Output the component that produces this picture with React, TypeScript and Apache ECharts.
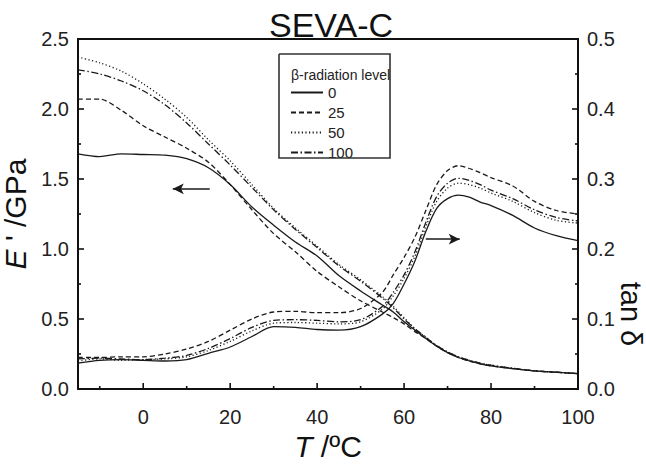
import React, { useEffect, useRef } from "react";
import * as echarts from "echarts";

// Temperature grid (°C)
const temps = [-15, -10, -5, 0, 5, 10, 15, 20, 25, 30, 35, 40, 45, 50, 55, 57.5, 60, 62.5, 65, 67.5, 70, 72.5, 75, 77.5, 80, 85, 90, 95, 100];

// Storage modulus E' (GPa) for each β-radiation level
const E0 = [1.68, 1.66, 1.68, 1.675, 1.67, 1.645, 1.58, 1.46, 1.30, 1.17, 1.05, 0.95, 0.81, 0.70, 0.60, 0.55, 0.48, 0.42, 0.36, 0.305, 0.26, 0.225, 0.2, 0.18, 0.165, 0.145, 0.13, 0.12, 0.11];
const E25 = [2.07, 2.07, 1.99, 1.88, 1.80, 1.72, 1.62, 1.46, 1.28, 1.11, 0.98, 0.84, 0.73, 0.63, 0.55, 0.51, 0.465, 0.41, 0.36, 0.305, 0.26, 0.225, 0.2, 0.18, 0.165, 0.145, 0.13, 0.12, 0.11];
const E50 = [2.37, 2.33, 2.27, 2.18, 2.07, 1.94, 1.78, 1.63, 1.46, 1.29, 1.15, 1.02, 0.89, 0.78, 0.66, 0.59, 0.51, 0.43, 0.37, 0.31, 0.265, 0.23, 0.205, 0.185, 0.17, 0.148, 0.13, 0.12, 0.11];
const E100 = [2.28, 2.25, 2.20, 2.13, 2.03, 1.90, 1.75, 1.60, 1.44, 1.28, 1.14, 1.01, 0.88, 0.77, 0.65, 0.58, 0.50, 0.43, 0.37, 0.31, 0.265, 0.23, 0.205, 0.185, 0.17, 0.148, 0.13, 0.12, 0.11];

// tan δ for each β-radiation level
const T0 = [0.037, 0.041, 0.042, 0.041, 0.040, 0.042, 0.051, 0.060, 0.075, 0.089, 0.088, 0.085, 0.084, 0.089, 0.107, 0.122, 0.150, 0.183, 0.225, 0.258, 0.272, 0.277, 0.274, 0.267, 0.262, 0.248, 0.230, 0.219, 0.212];
const T25 = [0.045, 0.045, 0.046, 0.046, 0.050, 0.057, 0.068, 0.084, 0.100, 0.110, 0.111, 0.109, 0.109, 0.115, 0.138, 0.163, 0.188, 0.217, 0.255, 0.292, 0.312, 0.319, 0.315, 0.309, 0.302, 0.290, 0.268, 0.255, 0.250];
const T50 = [0.040, 0.043, 0.041, 0.042, 0.043, 0.046, 0.055, 0.068, 0.083, 0.094, 0.095, 0.094, 0.093, 0.096, 0.114, 0.133, 0.158, 0.190, 0.232, 0.268, 0.287, 0.294, 0.292, 0.287, 0.280, 0.268, 0.252, 0.241, 0.237];
const T100 = [0.043, 0.044, 0.043, 0.042, 0.044, 0.048, 0.058, 0.072, 0.088, 0.098, 0.099, 0.098, 0.096, 0.099, 0.118, 0.138, 0.163, 0.196, 0.238, 0.275, 0.294, 0.301, 0.298, 0.292, 0.284, 0.272, 0.256, 0.245, 0.240];

const levels = ["0", "25", "50", "100"];
const xMajorTicks = [0, 20, 40, 60, 80, 100];
const xMinorTicks = [-10, 10, 30, 50, 70, 90];
const eMajorTicks = [0.5, 1.0, 1.5, 2.0];
const eMinorTicks = [0.25, 0.75, 1.25, 1.75, 2.25];
const tanMajorTicks = [0.1, 0.2, 0.3, 0.4];
const tanMinorTicks = [0.05, 0.15, 0.25, 0.35, 0.45];

// Arrow annotations (data coordinates)
const leftArrow = { from: [15.3, 1.43], to: [6.8, 1.43] };
const rightArrow = { from: [65.0, 0.214], to: [72.8, 0.214] };

const FONT = "'Liberation Sans', Arial, sans-serif";
const INK = "#1a1a1a";
const FRAME = "#111111";

const dashTypes: any[] = ["solid", [5, 3], [1.2, 2.4], [7, 2.5, 1.5, 2.5]];

function pairs(vals: number[]) {
  return temps.map((t, i) => [t, vals[i]]);
}

export default function App() {
  const ref = useRef<HTMLDivElement>(null);
  useEffect(() => {
    if (!ref.current) return;
    const chart = echarts.init(ref.current, undefined, { renderer: "svg" });
    const Esets = [E0, E25, E50, E100];
    const Tsets = [T0, T25, T50, T100];
    const series: any[] = [];
    const arrowLine = (a: { from: number[]; to: number[] }) => ({
      silent: true,
      symbol: ["none", "arrow"],
      symbolSize: [8, 11],
      label: { show: false },
      lineStyle: { color: INK, type: "solid", width: 1.5 },
      data: [[{ coord: a.from }, { coord: a.to }]],
    });
    const seg = (x1: number, y1: number, x2: number, y2: number, w = 1.6) => ({
      type: "line",
      shape: { x1, y1, x2, y2 },
      style: { stroke: FRAME, lineWidth: w },
    });

    // Frame, x ticks, left ticks and legend box (drawn with the left E' axis)
    series.push({
      name: "frame",
      type: "custom",
      xAxisIndex: 0,
      yAxisIndex: 0,
      clip: false,
      silent: true,
      z: 5,
      data: [[0, 0]],
      renderItem: (_p: any, api: any) => {
        const [xl, yb] = api.coord([-15, 0]);
        const [xr, yt] = api.coord([100, 2.5]);
        const ch: any[] = [
          {
            type: "polyline",
            shape: { points: [[xl, yb], [xl, yt], [xr, yt], [xr, yb], [xl, yb]] },
            style: { stroke: FRAME, lineWidth: 2, fill: null },
          },
          {
            type: "polyline",
            shape: { points: [[279, 54], [390, 54], [390, 158], [279, 158], [279, 54]] },
            style: { stroke: "#333333", lineWidth: 1.6, fill: null },
          },
        ];
        xMajorTicks.forEach((v) => {
          const px = api.coord([v, 0])[0];
          ch.push(seg(px, yb, px, yb - 6));
        });
        xMinorTicks.forEach((v) => {
          const px = api.coord([v, 0])[0];
          ch.push(seg(px, yb, px, yb - 3));
        });
        eMajorTicks.forEach((v) => {
          const py = api.coord([-15, v])[1];
          ch.push(seg(xl, py, xl + 6, py));
        });
        eMinorTicks.forEach((v) => {
          const py = api.coord([-15, v])[1];
          ch.push(seg(xl, py, xl + 3, py));
        });
        return { type: "group", children: ch };
      },
    });
    // Right axis ticks (tan δ axis)
    series.push({
      name: "rightTicks",
      type: "custom",
      xAxisIndex: 0,
      yAxisIndex: 1,
      clip: false,
      silent: true,
      z: 5,
      data: [[0, 0]],
      renderItem: (_p: any, api: any) => {
        const xr = api.coord([100, 0])[0];
        const ch: any[] = [];
        tanMajorTicks.forEach((v) => {
          const py = api.coord([100, v])[1];
          ch.push(seg(xr, py, xr - 6, py));
        });
        tanMinorTicks.forEach((v) => {
          const py = api.coord([100, v])[1];
          ch.push(seg(xr, py, xr - 3, py));
        });
        return { type: "group", children: ch };
      },
    });

    levels.forEach((lv, i) => {
      series.push({
        name: lv,
        type: "line",
        xAxisIndex: 0,
        yAxisIndex: 0,
        data: pairs(Esets[i]),
        smooth: 0.3,
        showSymbol: false,
        symbol: "none",
        lineStyle: { color: INK, width: 1.3, type: dashTypes[i] },
        itemStyle: { color: INK },
        ...(i === 0 ? { markLine: arrowLine(leftArrow) } : {}),
      });
    });
    levels.forEach((lv, i) => {
      series.push({
        name: lv,
        type: "line",
        xAxisIndex: 0,
        yAxisIndex: 1,
        data: pairs(Tsets[i]),
        smooth: 0.3,
        showSymbol: false,
        symbol: "none",
        lineStyle: { color: INK, width: 1.3, type: dashTypes[i] },
        itemStyle: { color: INK },
        ...(i === 0 ? { markLine: arrowLine(rightArrow) } : {}),
      });
    });

    const mkAxisLine = () => ({ show: true, onZero: false, lineStyle: { color: FRAME, width: 2 } });
    const labelStyle = { color: "#222", fontSize: 20, fontFamily: FONT };

    chart.setOption({
      animation: false,
      title: {
        text: "SEVA-C",
        left: 331,
        top: 8,
        textAlign: "center",
        padding: 0,
        textStyle: { fontSize: 34, fontWeight: "normal", color: "#111", fontFamily: FONT },
      },
      grid: {
        left: 78,
        right: 68,
        top: 39,
        bottom: 75,
        outerBoundsMode: "none",
      },
      legend: {
        data: levels,
        orient: "vertical",
        left: 290,
        top: 85,
        itemWidth: 32,
        itemHeight: 12,
        itemGap: 5,
        padding: 0,
        selectedMode: false,
        itemStyle: { opacity: 0 },
        textStyle: { fontSize: 15, color: "#222", fontFamily: FONT },
      },
      xAxis: {
        type: "value",
        min: -15,
        max: 100,
        position: "bottom",
        axisLine: mkAxisLine(),
        axisTick: { show: false, customValues: xMajorTicks },
        axisLabel: { ...labelStyle, margin: 18, customValues: xMajorTicks },
        splitLine: { show: false },
        name: "{i|T} /ºC",
        nameLocation: "middle",
        nameGap: 40,
        nameTextStyle: {
          fontSize: 30,
          lineHeight: 30,
          color: "#111",
          fontFamily: FONT,
          rich: { i: { fontSize: 30, lineHeight: 30, fontStyle: "italic", color: "#111", fontFamily: FONT } },
        },
      },
      yAxis: [
        {
          type: "value",
          min: 0,
          max: 2.5,
          interval: 0.5,
          position: "left",
          axisLine: mkAxisLine(),
          axisTick: { show: false },
          axisLabel: { ...labelStyle, margin: 9, formatter: (v: number) => v.toFixed(1) },
          splitLine: { show: false },
          name: "{i|E} ' /GPa",
          nameLocation: "middle",
          nameGap: 40,
          nameTextStyle: {
            fontSize: 30,
            lineHeight: 30,
            color: "#111",
            fontFamily: FONT,
            rich: { i: { fontSize: 30, lineHeight: 30, fontStyle: "italic", color: "#111", fontFamily: FONT } },
          },
        },
        {
          type: "value",
          min: 0,
          max: 0.5,
          interval: 0.1,
          position: "right",
          axisLine: mkAxisLine(),
          axisTick: { show: false },
          axisLabel: { ...labelStyle, margin: 9, formatter: (v: number) => v.toFixed(1) },
          splitLine: { show: false },
        },
      ],
      graphic: [
        {
          type: "text",
          z: 100,
          x: 291,
          y: 75,
          style: { text: "β-radiation level", fontSize: 14, fontFamily: FONT, fill: "#222", textVerticalAlign: "middle" },
        },
        {
          type: "text",
          x: 631,
          y: 314,
          rotation: -Math.PI / 2,
          style: { text: "tan δ", fontSize: 29, fontFamily: FONT, fill: "#111", textAlign: "center", textVerticalAlign: "middle" },
        },
      ],
      series,
    });
    return () => chart.dispose();
  }, []);
  return <div ref={ref} style={{ width: 646, height: 464, position: "absolute", left: 0, top: 0 }} />;
}
